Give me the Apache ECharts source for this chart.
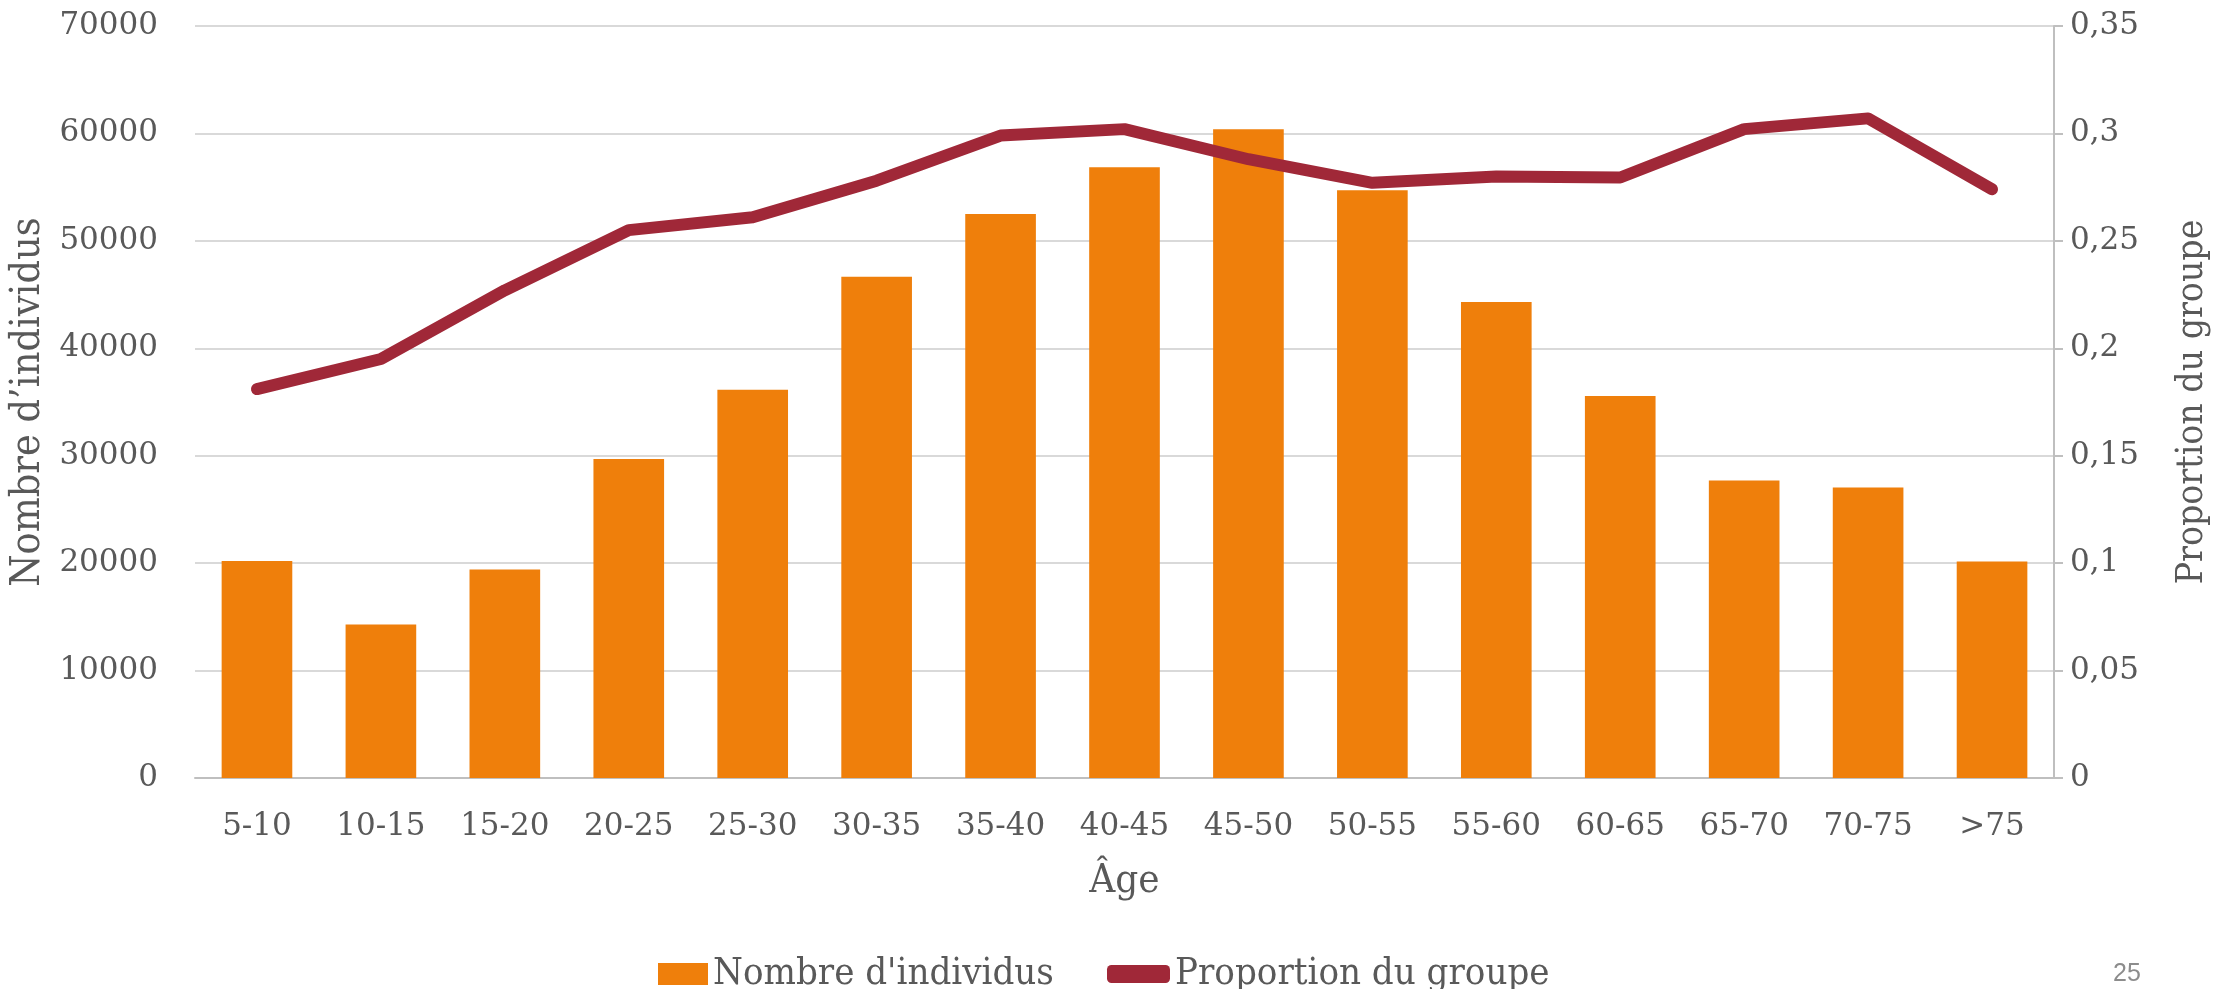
<!DOCTYPE html>
<html>
<head>
<meta charset="utf-8">
<script src="https://cdn.jsdelivr.net/npm/echarts@6/dist/echarts.min.js"></script>
<style>
  html, body { margin: 0; padding: 0; background: #fff; }
  #chart { width: 2235px; height: 989px; }
</style>
</head>
<body>
<div id="chart"></div>
<script>
// tranches d'âge
var ageGroups = ['5-10', '10-15', '15-20', '20-25', '25-30', '30-35', '35-40', '40-45',
                 '45-50', '50-55', '55-60', '60-65', '65-70', '70-75', '>75'];
// nombre d'individus par tranche
var nbIndividus = [20200, 14300, 19400, 29700, 36150, 46650, 52500, 56850,
                   60400, 54700, 44300, 35550, 27700, 27050, 20150];
// proportion du groupe
var proportion = [0.181, 0.195, 0.227, 0.255, 0.261, 0.278, 0.299, 0.302,
                  0.288, 0.277, 0.280, 0.2795, 0.302, 0.307, 0.274];

var txtGray = '#595959';
var numFont = '"DejaVu Serif", "Liberation Serif", serif';
var titleFont = '"DejaVu Serif Condensed", "DejaVu Serif", "Liberation Serif", serif';

var chart = echarts.init(document.getElementById('chart'));

//virgule décimale
function frNum(v) {
	return String(+v.toFixed(2)).replace('.', ',');
}

chart.setOption({
	animation: false,
	grid: { left: 195, right: 181, top: 26, bottom: 211, outerBoundsMode: 'none' },
	legend: [{
		data: ['Nombre d\'individus'],
		left: 653, top: 950,
		itemWidth: 50, itemHeight: 22, itemGap: 0,
		icon: 'rect',
		textStyle: { color: txtGray, fontFamily: titleFont, fontSize: 38 }
	}, {
		data: ['Proportion du groupe'],
		left: 1102, top: 950,
		itemWidth: 63, itemHeight: 18, itemGap: 0,
		icon: 'roundRect',
		textStyle: { color: txtGray, fontFamily: titleFont, fontSize: 38 }
	}],
	xAxis: {
		type: 'category',
		data: ageGroups,
		name: 'Âge',
		nameLocation: 'middle',
		nameGap: 84,
		nameTextStyle: { color: txtGray, fontFamily: titleFont, fontSize: 40 },
		axisLine: { lineStyle: { color: '#BFBFBF', width: 2 } },
		axisTick: { show: false },
		axisLabel: { color: txtGray, fontFamily: numFont, fontSize: 31, margin: 33 }
	},
	yAxis: [{
		type: 'value',
		min: 0, max: 70000, interval: 10000,
		name: 'Nombre d’individus',
		nameLocation: 'middle',
		nameRotate: 90,
		nameGap: 136,
		nameTextStyle: { color: txtGray, fontFamily: titleFont, fontSize: 41 },
		axisLine: { show: false },
		axisTick: { show: false },
		axisLabel: { color: txtGray, fontFamily: numFont, fontSize: 31, margin: 37, formatter: function (v) { return String(v); } },
		splitLine: { lineStyle: { color: '#D9D9D9', width: 2 } }
	}, {
		type: 'value',
		position: 'right',
		min: 0, max: 0.35, interval: 0.05,
		name: 'Proportion du groupe',
		nameLocation: 'middle',
		nameRotate: 90,
		nameGap: 120,
		nameTextStyle: { color: txtGray, fontFamily: titleFont, fontSize: 37 },
		axisLine: { show: true, lineStyle: { color: '#BFBFBF', width: 2 } },
		axisTick: { show: true, length: 9, lineStyle: { color: '#BFBFBF', width: 2 } },
		axisLabel: { color: txtGray, fontFamily: numFont, fontSize: 31, margin: 16, formatter: frNum },
		splitLine: { show: false }
	}],
	series: [{
		name: 'Nombre d\'individus',
		type: 'bar',
		data: nbIndividus,
		barWidth: '57%',
		itemStyle: { color: '#EF7F0B' },
		z: 2
	}, {
		name: 'Proportion du groupe',
		type: 'line',
		yAxisIndex: 1,
		data: proportion,
		symbol: 'none',
		itemStyle: { color: '#A02838' },
		lineStyle: { color: '#A02838', width: 12, cap: 'round', join: 'round' },
		z: 3
	}],
	graphic: [{
		type: 'text',
		left: 2113, top: 962,
		style: { text: '25', fill: '#8C8C8C', fontFamily: '"Liberation Sans", Arial, sans-serif', fontSize: 25 }
	}]
});
</script>
</body>
</html>
